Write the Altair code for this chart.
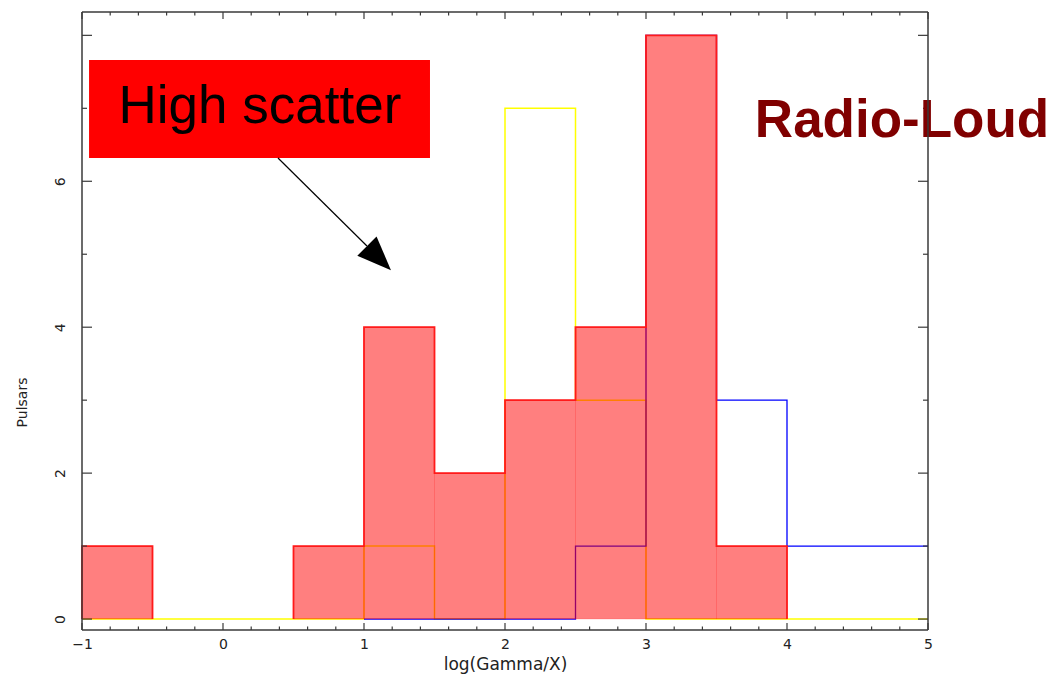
import altair as alt
import pandas as pd

# Histogram bins in log(Gamma/X), width 0.5
bin_lo = [-1.0, -0.5, 0.0, 0.5, 1.0, 1.5, 2.0, 2.5, 3.0, 3.5, 4.0, 4.5]
bin_hi = [-0.5, 0.0, 0.5, 1.0, 1.5, 2.0, 2.5, 3.0, 3.5, 4.0, 4.5, 5.0]
red_counts = [1, 0, 0, 1, 4, 2, 3, 4, 8, 1, 0, 0]
yellow_counts = [0, 0, 0, 0, 1, 0, 7, 3, 0, 0, 0, 0]
blue_counts = [None, None, None, None, 0, 0, 0, 1, 8, 3, 1, 1]

# Axis ticks
x_major = [-1, 0, 1, 2, 3, 4, 5]
x_minor = [round(m + k * 0.2, 1) for m in range(-1, 5) for k in range(1, 5)]
y_major = [0, 2, 4, 6, 8]
y_minor = [1, 3, 5, 7]
y_labelled = [0, 2, 4, 6]

# Annotations (data coordinates)
box_x = [-0.95, 1.468]
box_y = [6.319, 7.662]
box_text = "High scatter"
box_text_pos = [0.262, 6.80]
side_text = "Radio-Loud"
side_text_pos = [4.816, 6.607]
arrow_start = [0.390, 6.319]
arrow_end = [1.021, 5.113]
arrow_head = [1.106, 4.947]

W, H = 846, 618
FRAME = "#3a3a3a"

xs = alt.Scale(domain=[-1, 5], nice=False, zero=False)
ys = alt.Scale(domain=[-0.15, 8.32], nice=False, zero=False)

x_axis = alt.Axis(
    values=x_major, ticks=False, domain=False, grid=False,
    labelFont="DejaVu Sans", labelFontSize=14, labelColor="#222",
    labelBaseline="middle", labelPadding=14, labelFlush=False,
    labelExpr="datum.value < 0 ? '\u2212' + abs(datum.value) : datum.label",
    title="log(Gamma/X)", titleFont="DejaVu Sans", titleFontSize=17,
    titleFontWeight="normal", titleColor="#222", titleX=W / 2, titleY=34,
    titleBaseline="middle", titleAlign="center",
)
y_axis = alt.Axis(
    values=y_labelled, ticks=False, domain=False, grid=False,
    labelFont="DejaVu Sans", labelFontSize=14, labelColor="#222",
    labelAngle=270, labelAlign="center", labelBaseline="middle",
    labelPadding=22, labelFlush=False,
    title="Pulsars", titleFont="DejaVu Sans", titleFontSize=14,
    titleFontWeight="normal", titleColor="#222", titleAngle=270,
    titleX=-60, titleY=390, titleBaseline="middle", titleAlign="center",
)


def X(field):
    return alt.X(field, type="quantitative", scale=xs, axis=x_axis)


def Y(field):
    return alt.Y(field, type="quantitative", scale=ys, axis=y_axis)


def step_rows(counts):
    rows = []
    for i, c in enumerate(counts):
        if c is None:
            continue
        rows.append({"x": bin_lo[i], "y": c, "o": len(rows)})
        rows.append({"x": bin_hi[i], "y": c, "o": len(rows)})
    return pd.DataFrame(rows)


def run_rows(counts):
    rows = []
    run = -1
    prev = 0
    for i, c in enumerate(counts):
        if c > 0 and prev == 0:
            run += 1
            rows.append({"x": bin_lo[i], "y": 0, "o": len(rows), "run": run})
        if c > 0:
            rows.append({"x": bin_lo[i], "y": c, "o": len(rows), "run": run})
            rows.append({"x": bin_hi[i], "y": c, "o": len(rows), "run": run})
        if c == 0 and prev > 0:
            rows.append({"x": bin_lo[i], "y": 0, "o": len(rows), "run": run})
        prev = c
    if prev > 0:
        rows.append({"x": bin_hi[-1], "y": 0, "o": len(rows), "run": run})
    return pd.DataFrame(rows)


bars = pd.DataFrame({"lo": bin_lo, "hi": bin_hi, "n": red_counts})
bars = bars[bars["n"] > 0]

yellow = alt.Chart(step_rows(yellow_counts)).mark_line(
    color="#ffff00", strokeWidth=1.5
).encode(x=X("x"), y=Y("y"), order="o:Q")

blue = alt.Chart(step_rows(blue_counts)).mark_line(
    color="#0000ff", strokeWidth=1.3
).encode(x=X("x"), y=Y("y"), order="o:Q")

red_fill = alt.Chart(bars).mark_rect(
    fill="#ff0000", fillOpacity=0.5, stroke="#ff0000",
    strokeOpacity=0.15, strokeWidth=1
).encode(x=X("lo"), x2="hi", y=Y("n"), y2=alt.datum(0))

red_line = alt.Chart(run_rows(red_counts)).mark_line(
    color="#ff1a1a", strokeWidth=1.8
).encode(x=X("x"), y=Y("y"), order="o:Q", detail="run:N")


def xticks(vals, length):
    df = pd.DataFrame({"v": vals})
    bottom = alt.Chart(df).mark_rule(color=FRAME, strokeWidth=1.2).encode(
        x=X("v"), y=alt.value(H), y2=alt.value(H - length))
    top = alt.Chart(df).mark_rule(color=FRAME, strokeWidth=1.2).encode(
        x=X("v"), y=alt.value(0), y2=alt.value(length))
    return [bottom, top]


def yticks(vals, length):
    df = pd.DataFrame({"v": vals})
    left = alt.Chart(df).mark_rule(color=FRAME, strokeWidth=1.2).encode(
        y=Y("v"), x=alt.value(0), x2=alt.value(length))
    right = alt.Chart(df).mark_rule(color=FRAME, strokeWidth=1.2).encode(
        y=Y("v"), x=alt.value(W), x2=alt.value(W - length))
    return [left, right]


ticks = xticks(x_major, 7) + xticks(x_minor, 3.5) + yticks(y_major, 10) + yticks(y_minor, 5)

one = pd.DataFrame({"k": [0]})

box = alt.Chart(one).mark_rect(fill="#ff0000").encode(
    x=alt.X(datum=box_x[0], scale=xs, axis=x_axis), x2=alt.datum(box_x[1]),
    y=alt.Y(datum=box_y[0], scale=ys, axis=y_axis), y2=alt.datum(box_y[1]))

box_label = alt.Chart(one).mark_text(
    text=box_text, font="Liberation Sans", fontSize=53, color="#000000",
    align="center", baseline="alphabetic"
).encode(x=alt.X(datum=box_text_pos[0], scale=xs, axis=x_axis),
         y=alt.Y(datum=box_text_pos[1], scale=ys, axis=y_axis))

side_label = alt.Chart(one).mark_text(
    text=side_text, font="Liberation Sans", fontSize=53, fontWeight="bold",
    color="#800000", align="center", baseline="alphabetic"
).encode(x=alt.X(datum=side_text_pos[0], scale=xs, axis=x_axis),
         y=alt.Y(datum=side_text_pos[1], scale=ys, axis=y_axis))

arrow_line = alt.Chart(one).mark_rule(color="#000000", strokeWidth=1.2).encode(
    x=alt.X(datum=arrow_start[0], scale=xs, axis=x_axis), x2=alt.datum(arrow_end[0]),
    y=alt.Y(datum=arrow_start[1], scale=ys, axis=y_axis), y2=alt.datum(arrow_end[1]))

arrow_tip = alt.Chart(one).mark_point(
    shape="M0,-1L0.8,1L-0.8,1Z", filled=True, fill="#000000", stroke=None,
    opacity=1, size=1156, angle=135
).encode(x=alt.X(datum=arrow_head[0], scale=xs, axis=x_axis),
         y=alt.Y(datum=arrow_head[1], scale=ys, axis=y_axis))

frame = [
    alt.Chart(one).mark_rule(color=FRAME, strokeWidth=1.5).encode(
        x=alt.value(0), x2=alt.value(W), y=alt.value(0)),
    alt.Chart(one).mark_rule(color=FRAME, strokeWidth=1.5).encode(
        x=alt.value(0), x2=alt.value(W), y=alt.value(H)),
    alt.Chart(one).mark_rule(color=FRAME, strokeWidth=1.5).encode(
        x=alt.value(0), y=alt.value(0), y2=alt.value(H)),
    alt.Chart(one).mark_rule(color=FRAME, strokeWidth=1.5).encode(
        x=alt.value(W), y=alt.value(0), y2=alt.value(H)),
]

chart = alt.layer(
    yellow, blue, red_fill, red_line, *ticks,
    box, box_label, arrow_line, arrow_tip, side_label, *frame
).properties(
    width=W, height=H,
    autosize=alt.AutoSizeParams(type="none"),
    padding={"left": 82, "top": 12, "right": 124, "bottom": 45},
    background="#ffffff",
).configure_view(stroke=None)

chart.save("out.html", embed_options={"renderer": "svg", "actions": False})
